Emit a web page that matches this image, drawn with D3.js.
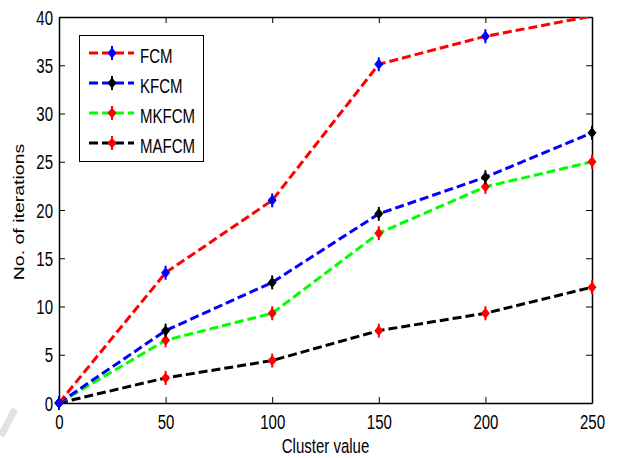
<!DOCTYPE html>
<html>
<head>
<meta charset="utf-8">
<script src="https://cdn.jsdelivr.net/npm/d3@7"></script>
<style>
  body { margin: 0; background: #fff; }
  text { font-family: "Liberation Sans", Arial, sans-serif; fill: #000; }
</style>
</head>
<body>
<svg id="container"></svg>
<script>
// cluster values on x axis
const clusters = [0, 50, 100, 150, 200, 250]

// iterations per method
const fcm = [0, 13.5, 21, 35.1, 38, 40.1]
const kfcm = [0, 7.5, 12.5, 19.6, 23.4, 28]
const mkfcm = [0, 6.5, 9.3, 17.6, 22.4, 25]
const mafcm = [0, 2.6, 4.4, 7.5, 9.3, 12]

const seriesNames = ["FCM", "KFCM", "MKFCM", "MAFCM"]
const seriesValues = [fcm, kfcm, mkfcm, mafcm]
const lineColors = ["#ff0000", "#0000ff", "#00ff00", "#000000"]
const markerColors = ["#0000ff", "#000000", "#ff0000", "#ff0000"]

const xTicks = [0, 50, 100, 150, 200, 250]
const yTicks = [0, 5, 10, 15, 20, 25, 30, 35, 40]

// the figure text looks horizontally squeezed
const squeeze = 0.77
const fontSize = 19.5

const setup = () => {
	const width = 618
	const height = 458
	const margin = {left: 59, right: 26, top: 17, bottom: 55}

	const app = d3.select("#container")
	   .attr("width", width)
	   .attr("height", height)

	// faint watermark stroke in the bottom-left corner
	app.append("path")
	   .attr("d", "M1,436 L15,409")
	   .attr("stroke", "#e2e2e2")
	   .attr("stroke-width", 7)

	const x = d3.scaleLinear().domain([0, 250]).range([margin.left, width - margin.right])
	const y = d3.scaleLinear().domain([0, 40]).range([height - margin.bottom, margin.top])

	// axes: ticks pointing inward, mirrored on top/right
	const bottom = app.append("g")
	   .attr("transform", `translate(0,${y(0)})`)
	   .call(d3.axisBottom(x).tickValues(xTicks).tickSizeInner(-6).tickSizeOuter(0))
	const left = app.append("g")
	   .attr("transform", `translate(${x(0)},0)`)
	   .call(d3.axisLeft(y).tickValues(yTicks).tickSizeInner(-6).tickSizeOuter(0))
	const top = app.append("g")
	   .attr("transform", `translate(0,${y(40)})`)
	   .call(d3.axisTop(x).tickValues(xTicks).tickSizeInner(-6).tickSizeOuter(0).tickFormat(""))
	const right = app.append("g")
	   .attr("transform", `translate(${x(250)},0)`)
	   .call(d3.axisRight(y).tickValues(yTicks).tickSizeInner(-6).tickSizeOuter(0).tickFormat(""))

	for (let g of [bottom, left, top, right]) {
		g.selectAll("path").attr("stroke", "#000").attr("stroke-width", 1.5)
		g.selectAll("line").attr("stroke", "#000").attr("stroke-width", 1)
		g.selectAll("text").attr("font-size", fontSize).attr("font-family", "Liberation Sans, Arial, sans-serif")
	}
	bottom.selectAll("text")
	   .attr("x", 0).attr("y", 0).attr("dy", null)
	   .attr("transform", `translate(0,26) scale(${squeeze},1)`)
	left.selectAll("text")
	   .attr("x", 0).attr("dy", null)
	   .attr("transform", `translate(-6,7) scale(${squeeze},1)`)

	// axis titles
	app.append("text")
	   .attr("transform", `translate(${(x(0) + x(250)) / 2},453) scale(${squeeze},1)`)
	   .attr("text-anchor", "middle")
	   .attr("font-size", fontSize)
	   .text("Cluster value")
	app.append("text")
	   .attr("transform", `translate(24,212) rotate(-90) scale(1,${squeeze})`)
	   .attr("text-anchor", "middle")
	   .attr("font-size", fontSize)
	   .text("No. of iterations")

	// lines are clipped to the axes box
	app.append("clipPath").attr("id", "plotClip")
	   .append("rect")
	   .attr("x", x(0)).attr("y", y(40))
	   .attr("width", x(250) - x(0)).attr("height", y(0) - y(40))

	const line = d3.line()
	   .x((d, i) => x(clusters[i]))
	   .y(d => y(d))

	const drawMarker = (g, cx, cy, color) => {
		g.append("path")
		   .attr("d", `M${cx},${cy - 5.5} L${cx + 4.5},${cy} L${cx},${cy + 5.5} L${cx - 4.5},${cy} Z`)
		   .attr("fill", color)
		g.append("line")
		   .attr("x1", cx).attr("x2", cx)
		   .attr("y1", cy - 7).attr("y2", cy + 7)
		   .attr("stroke", color)
		   .attr("stroke-width", 2)
	}

	// draw from last to first so FCM ends on top like the picture
	for (let s = seriesValues.length - 1; s >= 0; s--) {
		const vals = seriesValues[s]
		app.append("path")
		   .attr("d", line(vals))
		   .attr("clip-path", "url(#plotClip)")
		   .attr("fill", "none")
		   .attr("stroke", lineColors[s])
		   .attr("stroke-width", 3)
		   .attr("stroke-dasharray", "9,4")
		const mg = app.append("g")
		vals.forEach((v, i) => {
			// markers outside the axis limits are not drawn
			if (v <= 40) drawMarker(mg, x(clusters[i]), y(v), markerColors[s])
		})
	}

	// legend
	const lg = app.append("g")
	lg.append("rect")
	   .attr("x", 79.5).attr("y", 35.5)
	   .attr("width", 124).attr("height", 126)
	   .attr("fill", "#fff")
	   .attr("stroke", "#000")
	   .attr("stroke-width", 1)
	seriesNames.forEach((name, i) => {
		const ly = 53 + i * 30
		lg.append("line")
		   .attr("x1", 89).attr("x2", 134)
		   .attr("y1", ly).attr("y2", ly)
		   .attr("stroke", lineColors[i])
		   .attr("stroke-width", 3)
		   .attr("stroke-dasharray", "9,4")
		drawMarker(lg, 112, ly, markerColors[i])
		lg.append("text")
		   .attr("transform", `translate(140,${ly + 9.5}) scale(${squeeze},1)`)
		   .attr("font-size", fontSize)
		   .text(name)
	})
}

document.addEventListener("DOMContentLoaded", setup)
</script>
</body>
</html>
